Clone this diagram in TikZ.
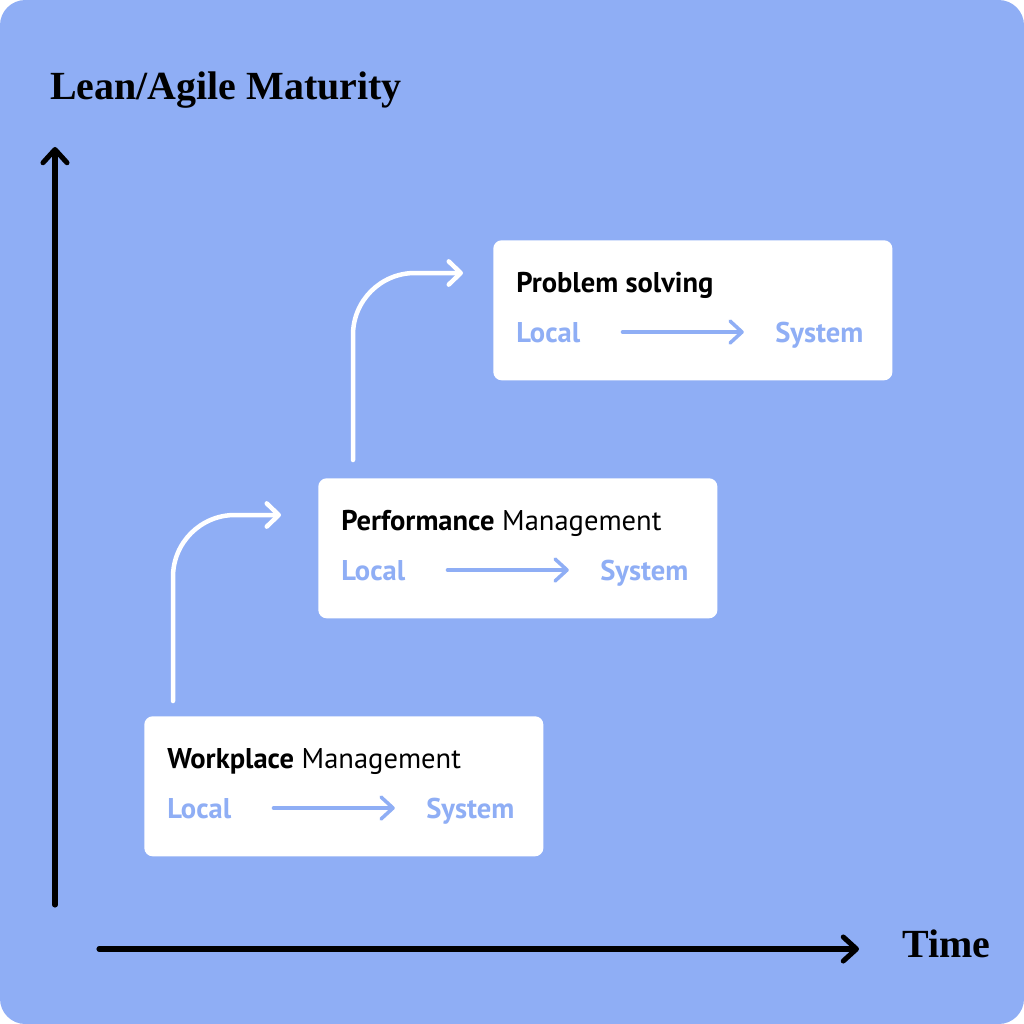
\documentclass[tikz,border=0pt]{standalone}
\usepackage{fontspec}
\setmainfont{PT Sans}
\newfontfamily\headfont{Liberation Serif}
\usetikzlibrary{positioning,arrows.meta}
\definecolor{bgblue}{HTML}{8FAEF5}

\begin{document}
\begin{tikzpicture}[
    % 1 unit = 1 pixel of the 1024 px square, y going down
    x=0.025cm, y=-0.025cm,
    stage/.style={fill=white, rounded corners=6pt, anchor=north west,
        inner sep=0, minimum width=9.975cm, minimum height=3.5cm},
    lbl/.style={anchor=base west, inner sep=0,
        font=\fontsize{20.3}{23}\selectfont, text height=14.6pt, text depth=0.4pt},
    axis/.style={line width=3.6pt, line cap=round,
        -{Straight Barb[length=0.33cm, width=0.6cm, round]}},
    flow/.style={white, line width=3.2pt, line cap=round, rounded corners=44pt,
        -{Straight Barb[length=0.3cm, width=0.58cm, round]}},
    scopearrow/.style={bgblue, line width=2.5pt, line cap=round,
        -{Straight Barb[length=0.3cm, width=0.55cm, round]}}
]
    % Background
    \fill[white] (0,0) rectangle (1024,1024);
    \fill[bgblue, rounded corners=18pt] (0,0) rectangle (1024,1024);
    \useasboundingbox (0,0) rectangle (1024,1024);

    % Axes
    \coordinate (yfoot) at (55,905);
    \coordinate (ytop) at (55,147);
    \coordinate (xfoot) at (99,949);
    \coordinate (xend) at (859,949);
    \draw[axis] (yfoot) -- (ytop);
    \draw[axis] (xfoot) -- (xend);
    \node[anchor=base west, inner sep=0, font=\headfont\bfseries\fontsize{28.4}{31}\selectfont]
        (ytitle) at (50,100) {Lean/Agile Maturity};
    \node[anchor=base west, inner sep=0, font=\headfont\bfseries\fontsize{28.4}{31}\selectfont]
        (xtitle) at (902,957) {Time};

    % Stages
    \foreach \n/\x/\y/\head in {wp/144/716/{\textbf{Workplace} Management},
                                pm/318/478/{\textbf{Performance} Management},
                                ps/493/240/{\textbf{Problem solving}}} {
        \node[stage] (\n) at (\x,\y) {};
        \node[lbl] (\n-h) at (\x+23,\y+52) {\head};
        \node[lbl, bgblue, font=\bfseries\fontsize{20.3}{23}\selectfont] (\n-l) at (\x+23,\y+102) {Local};
        \node[lbl, bgblue, font=\bfseries\fontsize{20.3}{23}\selectfont] (\n-s) at (\x+282,\y+102) {System};
        \draw[scopearrow, shorten <=1.05cm, shorten >=0.78cm] (\n-l.east) -- (\n-s.west);
    }

    % Steps up
    \coordinate (up1) at (173,701);
    \coordinate (to1) at (281,515);
    \coordinate (up2) at (353,460);
    \coordinate (to2) at (463,273);
    \draw[flow] (up1) |- (to1);
    \draw[flow] (up2) |- (to2);
\end{tikzpicture}
\end{document}
